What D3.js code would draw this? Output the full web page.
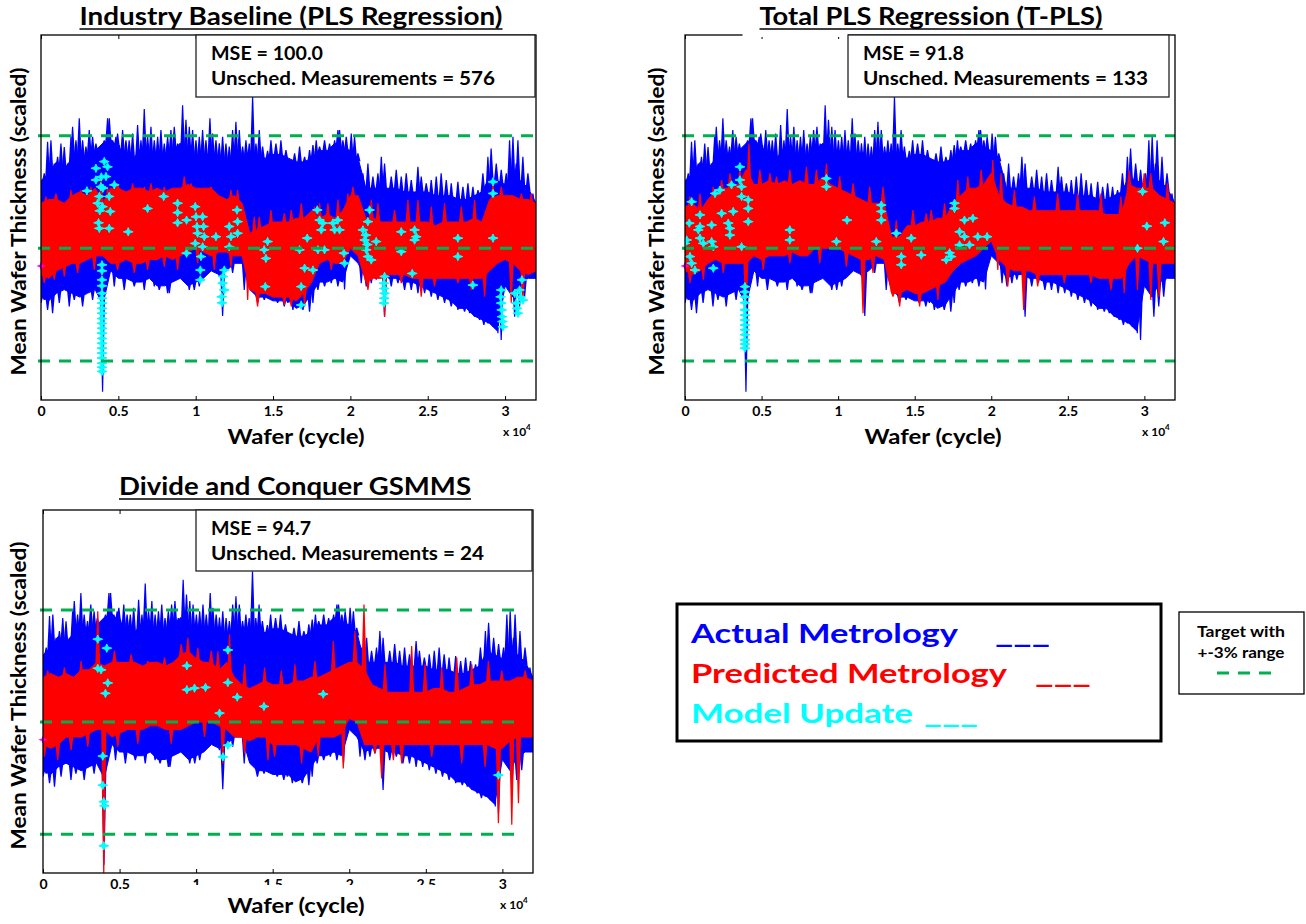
<!DOCTYPE html>
<html>
<head>
<meta charset="utf-8">
<script src="https://cdn.jsdelivr.net/npm/d3@7"></script>
<style>
body { margin: 0; background: #fff; }
text { font-family: Lato, "Open Sans", sans-serif; font-weight: bold; }
</style>
</head>
<body>
<svg id="chart" width="1306" height="924"></svg>
<script>
// wafer cycle of each envelope sample (every 500 wafers)
var cycles = [0,500,1000,1500,2000,2500,3000,3500,4000,4500,5000,5500,6000,6500,7000,7500,8000,8500,9000,9500,10000,10500,11000,11500,12000,12500,13000,13500,14000,14500,15000,15500,16000,16500,17000,17500,18000,18500,19000,19500,20000,20500,21000,21500,22000,22500,23000,23500,24000,24500,25000,25500,26000,26500,27000,27500,28000,28500,29000,29500,30000,30500,31000,31500,32000];

// actual metrology (same in every panel): dense upper / lower edge of the trace
var actualHi = [101.8,102.0,102.3,102.1,102.4,102.4,102.5,102.6,102.8,102.9,102.7,102.5,102.4,102.7,102.5,102.4,102.5,102.6,102.8,102.5,102.4,102.4,102.6,102.4,102.3,102.4,102.4,102.6,102.4,102.4,102.5,102.5,102.4,102.3,102.3,102.4,102.6,102.6,102.8,102.7,102.6,102.4,101.6,101.6,101.6,101.6,101.6,101.5,101.5,101.5,101.5,101.4,101.4,101.4,101.3,101.3,101.4,101.5,101.9,101.8,101.7,102.0,101.8,101.6,101.2];
var actualLo = [98.7,98.6,98.8,98.9,98.8,98.7,98.8,98.9,98.5,99.4,99.2,99.2,99.1,99.1,99.2,99.0,99.0,99.1,99.2,99.0,99.1,99.2,99.4,99.3,99.4,99.6,99.6,98.9,98.7,98.7,98.6,98.6,98.6,98.4,98.5,98.8,99.1,99.1,99.2,99.1,99.8,99.6,99.2,99.3,99.3,99.2,99.2,99.1,99.1,99.0,98.9,98.8,98.7,98.6,98.4,98.4,98.2,98.1,98.0,97.8,99.0,98.7,99.1,99.2,99.2];
// single excursions of the actual trace [cycle, value]
var actualSpikes = [[211,102.0],[427,102.84],[642,102.88],[858,102.26],[1073,102.44],[1289,102.79],[1504,102.7],[1720,102.26],[1935,102.97],[2043,103.24],[2258,102.88],[2474,103.46],[2689,102.88],[2905,102.71],[3120,103.15],[3336,102.97],[3551,102.79],[3767,102.62],[4090,102.88],[4306,103.46],[4413,103.46],[4629,102.88],[4844,102.97],[4950,103.06],[5060,102.75],[5275,103.15],[5491,102.88],[5700,102.88],[5922,103.06],[6245,103.28],[6461,102.88],[6676,103.71],[6892,102.97],[7107,103.24],[7323,102.88],[7540,102.97],[7754,103.15],[7969,102.79],[8185,102.97],[8400,103.15],[8616,103.24],[8831,102.79],[9154,103.81],[9370,103.42],[9585,103.24],[9800,103.15],[10016,102.88],[10232,102.97],[10447,103.15],[10663,102.88],[10920,103.46],[11094,103.06],[11309,102.88],[11525,102.8],[11740,102.97],[11956,102.79],[12171,102.71],[12387,103.15],[12600,103.37],[12818,103.15],[13033,102.71],[13249,102.88],[13464,102.79],[13680,104.04],[13895,102.79],[14111,103.15],[14326,102.71],[14650,102.6],[14865,102.88],[15188,102.79],[15510,102.88],[15835,102.62],[16393,102.53],[16716,102.71],[17039,102.44],[17362,102.62],[17580,102.75],[17793,102.88],[18009,102.71],[18330,102.88],[18655,102.79],[18979,102.88],[19194,103.15],[19300,103.15],[19517,102.88],[19733,102.97],[20056,103.06],[20270,102.97],[20487,102.53],[20810,102.0],[21134,102.26],[21457,101.91],[21780,102.0],[22000,102.44],[22210,102.26],[22642,101.91],[22965,102.09],[23289,101.91],[23612,102.0],[23935,101.82],[24366,102.17],[24582,101.91],[24905,101.73],[25228,101.82],[25551,101.91],[25870,102.0],[26198,101.82],[26521,101.73],[26950,101.77],[27275,101.64],[27599,101.73],[27922,101.64],[28250,101.55],[28568,102.0],[28891,102.44],[29100,102.66],[29430,102.26],[29753,102.09],[30077,102.0],[30292,102.88],[30510,102.97],[30723,102.26],[30830,102.88],[31150,102.44],[31478,102.0],[31800,101.46],
  [0,98.54],[211,98.62],[427,98.36],[750,98.27],[1181,98.54],[1827,98.45],[2150,98.62],[2690,98.45],[3336,98.62],[3767,98.71],[3980,96.18],[4737,98.98],[5380,98.89],[6030,98.98],[6676,98.89],[7323,98.98],[7646,98.89],[8185,98.8],[8292,98.8],[9585,98.89],[9909,98.89],[10232,98.98],[10555,99.25],[11525,99.25],[11740,98.2],[12387,99.34],[13141,98.89],[14003,98.54],[14434,98.62],[15296,98.54],[15727,98.45],[15961,98.54],[16285,98.36],[16608,98.45],[16931,98.36],[17360,98.31],[17578,98.54],[17901,98.89],[18332,98.98],[18763,99.07],[19194,98.98],[19625,98.9],[20703,99.07],[21026,98.98],[21349,99.07],[21672,99.16],[22210,98.18],[22642,98.98],[23073,99.07],[23504,98.89],[23935,98.89],[24366,98.8],[24797,98.8],[25228,98.71],[25659,98.62],[26090,98.54],[26521,98.45],[26952,98.36],[27383,98.31],[27710,98.27],[28030,98.18],[28353,98.09],[28630,97.96],[28891,98.0],[29215,97.91],[29538,97.74],[29750,97.56],[30620,98.18],[30939,98.45],[31262,98.71]];

// predicted metrology, industry baseline (PLS)
var predHiPLS = [101.2,101.3,101.3,101.2,101.4,101.5,101.4,101.6,101.2,101.6,101.6,101.5,101.6,101.6,101.5,101.6,101.5,101.6,101.6,101.7,101.6,101.6,101.6,101.4,101.3,101.4,101.2,100.4,100.5,100.6,100.7,100.7,100.7,100.8,100.8,101.0,100.8,100.9,100.8,101.0,101.4,101.4,100.8,100.8,100.7,100.7,100.7,100.7,100.7,100.7,100.7,100.6,100.7,100.7,100.7,100.7,100.8,100.7,101.3,101.4,101.4,101.4,101.3,101.3,101.2];
var predLoPLS = [99.3,99.2,99.4,99.5,99.6,99.6,99.7,99.8,99.8,99.6,99.6,99.7,99.6,99.6,99.7,99.7,99.8,99.7,99.8,99.9,100.0,99.9,99.8,99.9,99.9,99.8,99.8,98.9,98.8,98.8,98.7,98.7,98.7,98.6,98.8,99.1,99.6,99.7,99.6,99.6,100.0,99.8,99.1,99.2,99.2,99.3,99.3,99.3,99.2,99.2,99.2,99.2,99.2,99.2,99.2,99.2,99.2,99.2,99.4,99.6,99.7,99.6,99.4,99.3,99.4];
var predSpikesPLS = [[319,101.38],[965,101.46],[1935,101.55],[2582,101.55],[3228,101.64],[3875,101.91],[4306,101.64],[4952,101.73],[5922,101.73],[6676,101.64],[7107,101.73],[7969,101.64],[9262,101.91],[9693,101.73],[10986,101.64],[12279,101.55],[12710,101.55],[13787,100.84],[14111,100.84],[14865,101.02],[15727,100.93],[16177,101.02],[16824,101.2],[17686,101.11],[18010,101.2],[18548,101.2],[19194,101.29],[19840,101.46],[20164,101.64],[21350,101.29],[21780,101.2],[22857,101.02],[23720,101.29],[24366,101.29],[25228,101.11],[26090,101.2],[27168,101.11],[28030,101.29],[29220,101.73],[29753,101.64],[31050,101.46],[31693,101.46],
  [211,99.07],[858,99.16],[1504,99.25],[2366,99.34],[3444,99.42],[4952,99.42],[6030,99.34],[6892,99.42],[7969,99.51],[8831,99.42],[10124,99.6],[11201,99.42],[12279,99.51],[13360,98.62],[14000,98.45],[15730,98.49],[16177,98.45],[17039,98.45],[18763,99.42],[21134,98.89],[22210,98.18],[23289,99.07],[24580,98.71],[25443,98.98],[26952,99.07],[27814,98.89],[28676,98.71],[30400,98.54],[31150,98.62]];

// predicted metrology, total PLS (T-PLS)
var predHiTPLS = [101.1,101.2,101.0,101.3,101.5,101.6,101.6,101.7,102.1,101.7,101.7,101.8,101.7,101.8,101.7,101.8,101.7,101.7,101.9,101.7,101.6,101.5,101.4,101.3,101.2,101.2,101.2,100.3,100.3,100.6,100.6,100.7,100.7,100.8,100.8,101.2,101.4,101.6,101.6,101.7,102.0,101.4,101.2,101.1,101.1,101.0,101.0,101.0,101.0,101.0,101.0,101.0,101.0,101.0,101.0,100.9,100.9,100.9,101.7,101.6,101.6,101.6,101.4,101.3,101.2];
var predLoTPLS = [99.4,99.3,99.4,99.6,99.7,99.6,99.6,99.6,99.6,99.8,99.7,99.8,99.8,99.8,99.9,99.8,99.8,100.0,100.0,100.0,100.0,99.9,99.8,99.7,99.7,99.8,99.7,98.8,98.8,98.9,98.8,98.8,98.9,99.0,99.1,99.4,99.6,99.7,99.8,100.0,100.2,99.7,99.5,99.4,99.4,99.4,99.3,99.3,99.3,99.3,99.3,99.3,99.3,99.3,99.2,99.2,99.2,99.2,99.6,99.8,99.7,99.6,99.6,99.6,99.6];
var predSpikesTPLS = [[326,101.38],[978,101.46],[1847,101.64],[2390,101.82],[2934,102.0],[3585,102.09],[4172,102.79],[4889,102.09],[5541,102.0],[5976,101.91],[6845,102.09],[7931,102.17],[8583,102.09],[9235,102.26],[10104,101.91],[10974,101.73],[12060,101.64],[12929,101.64],[13800,100.75],[14885,101.02],[15754,100.93],[16080,101.02],[16950,101.2],[17820,101.82],[18470,101.91],[19340,102.09],[20100,102.35],[20640,102.0],[21513,101.55],[22817,101.38],[24338,101.46],[25642,101.46],[27163,101.46],[28467,101.38],[29010,102.08],[29988,102.0],[30420,102.0],[31509,101.73],
  [326,99.07],[1195,99.16],[2499,99.34],[3976,98.27],[5107,99.42],[6845,99.6],[8800,99.6],[10539,99.51],[11625,98.27],[12277,99.34],[13580,98.71],[14016,98.45],[15320,98.45],[16515,98.62],[20427,99.42],[21079,98.98],[22120,98.36],[23034,98.98],[24773,99.07],[26511,99.07],[27815,98.89],[28684,98.8],[29550,98.89],[30420,98.62],[30960,98.71]];

// predicted metrology, divide and conquer GSMMS
var predHiGSMMS = [101.2,101.3,101.2,101.3,101.2,101.4,101.4,101.6,101.5,101.6,101.6,101.6,101.6,101.5,101.6,101.6,101.5,101.6,101.8,101.9,101.7,101.6,101.6,101.4,101.6,101.2,101.0,100.9,101.0,101.1,101.0,101.0,101.0,101.1,101.1,101.2,101.2,101.3,101.4,101.5,101.6,101.6,101.4,101.0,100.9,100.8,100.8,100.8,100.8,100.8,100.8,100.9,100.9,100.8,100.8,100.9,101.0,101.0,101.1,101.1,101.1,101.1,101.2,101.2,101.1];
var predLoGSMMS = [99.4,99.3,99.4,99.6,99.6,99.6,99.7,99.8,99.8,99.6,99.7,99.8,99.8,99.8,99.9,99.9,99.8,99.8,99.8,99.9,100.0,100.0,100.0,99.9,99.8,99.6,99.6,99.5,99.6,99.6,99.4,99.4,99.4,99.4,99.3,99.2,99.6,99.6,99.6,99.7,100.1,100.0,99.4,99.4,99.4,99.4,99.4,99.4,99.4,99.4,99.4,99.4,99.4,99.4,99.4,99.4,99.4,99.4,99.4,99.3,99.3,99.5,99.6,99.6,99.6];
var predSpikesGSMMS = [[308,101.38],[1397,101.46],[2487,101.64],[3576,102.97],[4666,101.91],[5755,101.82],[6845,101.64],[7934,101.73],[9024,102.09],[9460,102.26],[10113,101.99],[10985,101.91],[11420,101.9],[12183,102.35],[13164,101.55],[14471,101.46],[15561,101.38],[16451,101.55],[17758,101.64],[18957,102.17],[20373,102.44],[20961,103.15],[22334,101.55],[24077,102.04],[24949,101.55],[26038,101.46],[27019,101.73],[28000,101.55],[29089,101.64],[29960,101.38],[31486,101.38],
  [90,99.07],[961,98.98],[1833,99.25],[2923,99.34],[3968,95.9],[4884,99.34],[6191,99.42],[8370,99.42],[10549,99.6],[11747,98.89],[13164,99.16],[14690,98.98],[15125,99.07],[16887,98.89],[17976,99.07],[19610,98.76],[21680,99.16],[22116,98.49],[22880,98.98],[23424,98.89],[25385,99.07],[27346,98.89],[28871,98.8],[29740,97.29],[30614,97.25],[31050,97.83]];

// model update points [cycle, value]
var updatesPLS = [[2970,101.53],[3550,102.13],[4090,102.31],[4200,101.91],[4740,101.69],[3770,101.38],[3980,101.11],[3550,101.82],[4300,102.17],[3870,101.64],[3660,101.2],[4410,101.38],[3720,100.68],[3770,100.53],[4410,100.53],[4480,100.98],[3900,101.9],[4000,101.6],[3800,101.0],
  [5640,100.44],[6890,101.06],[7930,101.38],[8830,101.2],[8830,100.95],[8830,100.68],[9410,100.75],[9410,99.87],[9970,101.11],[10020,100.84],[10080,100.58],[10124,100.4],[9970,100.13],[10450,100.84],[10510,100.58],[10555,100.31],[10450,100.04],[10340,99.78],[10300,99.42],[10300,99.16],
  [11310,100.31],[12170,100.58],[12280,100.31],[12170,100.04],[12710,100.71],[12710,100.4],[12670,101.02],[11850,99.42],[11740,99.07],[11680,98.71],[11850,98.89],[11760,99.25],[11700,98.55],[14650,100.18],[14430,99.96],[14540,99.73],[14500,98.98],
  [3940,99.56],[3940,99.4],[3940,99.16],[3940,99.0],[3940,98.8],[3940,98.67],[3940,98.54],[3940,98.4],[3940,98.27],[3940,98.13],[3940,98.0],[3940,97.87],[3940,97.74],[3940,97.6],[3940,97.47],[3940,97.34],[3940,97.21],[3940,97.08],[3940,96.94],[3940,96.83],[3940,96.72],
  [16715,99.96],[17040,99.47],[16820,98.98],[16820,98.49],[17210,100.27],[17580,99.42],[17860,101.02],[17900,99.96],[18010,100.75],[18120,100.49],[18220,100.67],[18330,99.96],[18870,100.67],[18980,100.49],[19190,100.75],[19300,100.49],[19580,99.87],[19620,99.6],
  [20810,100.49],[20920,100.22],[21030,99.96],[21130,99.78],[21240,101.02],[21130,100.71],[21350,99.69],[21670,100.18],[21000,100.35],[21100,100.1],[22170,99.07],[22210,98.8],[22170,98.54],[22210,99.25],[22190,98.67],[22190,98.93],
  [23290,100.44],[23290,99.91],[24000,99.33],[24150,100.49],[24150,100.22],[24260,100.31],[26950,100.27],[26950,99.78],[27920,99.02],[29220,101.77],[29220,101.46],[29220,100.27],
  [29750,98.89],[29750,98.54],[29800,98.18],[29860,97.91],[29710,98.71],[29780,98.36],[29830,98.05],[30620,98.8],[30720,98.54],[30830,98.27],[31090,99.16],[31150,98.62],[30940,98.89],[30780,98.4],[31000,98.7]];
var updatesTPLS = [[435,101.24],[280,100.67],[110,100.22],[0,100.13],[326,99.78],[650,99.42],[435,99.6],[980,100.89],[980,100.58],[980,100.27],[870,100.49],[1195,100.13],[1740,100.62],[1740,100.18],[1850,100.04],[1850,99.47],[1960,101.46],[2280,101.55],[2390,100.93],[2825,100.67],[2933,100.53],[2933,100.35],[3040,101.69],[3150,100.98],[3585,102.17],[3585,101.82],[3694,101.64],[3694,101.38],[4130,101.29],[4130,101.06],[4130,100.71],[3694,100.04],
  [3910,98.98],[3910,98.84],[3910,98.71],[3910,98.55],[3910,98.36],[3910,98.22],[3910,98.09],[3910,97.96],[3910,97.83],[3910,97.7],[3910,97.56],[3910,97.45],[3910,97.34],
  [6845,100.49],[6845,100.22],[9235,101.86],[9235,101.64],[9890,100.18],[10580,100.75],[12495,100.18],[12820,101.15],[12820,100.98],[12820,100.75],[13800,100.4],[14125,99.78],[14125,99.56],[14775,100.27],[15430,99.82],
  [17600,101.2],[17600,101.06],[18250,100.75],[18800,100.8],[17930,100.44],[18250,100.31],[17930,100.09],[18580,100.09],[19120,100.31],[19730,100.31],[17280,99.88],[17385,99.78],[17060,99.69],[29880,101.51],[30160,100.59],[31335,100.68],[31250,100.18],[29550,100.0]];
var updatesGSMMS = [[3576,102.22],[4165,101.98],[3576,101.44],[3794,101.4],[4230,101.05],[4077,100.77],[3903,99.09],[3903,98.31],[3968,97.87],[4012,97.76],[3968,96.69],[9394,101.51],[9394,100.87],[9895,100.91],[10614,100.93],[11530,100.24],[12074,101.93],[12074,101.06],[12684,100.67],[14428,100.42],[11747,99.07],[12074,99.38],[18300,100.75],[29740,98.58]];
var firstPoint = [0, 99.53];

var targetLevels = [97, 100, 103];
var xTicks = [0, 5000, 10000, 15000, 20000, 25000, 30000];
var titles = ["Industry Baseline (PLS Regression)", "Total PLS Regression (T-PLS)", "Divide and Conquer GSMMS"];
var mseValues = ["100.0", "91.8", "94.7"];
var unschedCounts = [576, 133, 24];
var targetEnds = [32000, 32000, 30800];
var yDomain = [95.96, 105.68];

var svg = d3.select("#chart");
svg.append("rect").attr("width", 1306).attr("height", 924).attr("fill", "#fff");

var panels = [
  {hi: predHiPLS, lo: predLoPLS, spikes: predSpikesPLS, updates: updatesPLS,
   left: 41, right: 536, top: 35, bottom: 400, titleX: 291, titleY: 25, titleW: 423, boxX: 196, boxW: 339, boxH: 62,
   mseW: [112, 284], yLabelX: 26, xLabelX: 296, xLabelY: 444},
  {hi: predHiTPLS, lo: predLoTPLS, spikes: predSpikesTPLS, updates: updatesTPLS,
   left: 685, right: 1175, top: 35, bottom: 400, titleX: 931, titleY: 25, titleW: 343, boxX: 848, boxW: 321, boxH: 62,
   mseW: [101, 285], yLabelX: 664, xLabelX: 933, xLabelY: 444, cover: true},
  {hi: predHiGSMMS, lo: predLoGSMMS, spikes: predSpikesGSMMS, updates: updatesGSMMS,
   left: 43, right: 533, top: 510, bottom: 873, titleX: 295, titleY: 495, titleW: 352, boxX: 196, boxW: 336, boxH: 61,
   mseW: [100, 273], yLabelX: 26, xLabelX: 296, xLabelY: 913, cutTicks: true}
];

// model update marker: small four-point star with a horizontal bar
var sparkle = "M0,-4.2L1.3,-1.3L4.6,0L1.3,1.3L0,4.2L-1.3,1.3L-4.6,0L-1.3,-1.3Z";

function fit(sel, w) {
  return sel.attr("textLength", w).attr("lengthAdjust", "spacingAndGlyphs");
}

panels.forEach(function(p, k) {
  var x = d3.scaleLinear().domain([0, 32000]).range([p.left, p.right]);
  var y = d3.scaleLinear().domain(yDomain).range([p.bottom, p.top]);
  var g = svg.append("g");

  var clipId = "clip" + k;
  g.append("clipPath").attr("id", clipId)
    .append("rect").attr("x", p.left).attr("y", p.top)
    .attr("width", p.right - p.left).attr("height", p.bottom - p.top);
  var plot = g.append("g").attr("clip-path", "url(#" + clipId + ")");

  function band(hi, lo, color) {
    var area = d3.area()
      .x(function(d, i) { return x(cycles[i]); })
      .y0(function(d, i) { return y(lo[i]); })
      .y1(function(d, i) { return y(hi[i]); });
    plot.append("path").datum(cycles).attr("d", area)
      .attr("fill", color).attr("stroke", color).attr("stroke-width", 1);
  }
  // each excursion drawn as a narrow needle rising out of the band edge
  function spikes(list, hi, lo, color) {
    plot.selectAll(null).data(list).enter().append("path")
      .attr("d", function(d) {
        var i0 = Math.floor(d[0] / 500), i1 = Math.min(i0 + 1, cycles.length - 1);
        var top = Math.min(hi[i0], hi[i1]), bot = Math.max(lo[i0], lo[i1]);
        var up = d[1] > (top + bot) / 2;
        var px = x(d[0]), tip = y(d[1]);
        var base = up ? y(top) + 3 : y(bot) - 3;
        return "M" + (px - 2.6) + "," + base + "L" + (px - 0.6) + "," + tip + "L" + (px + 0.6) + "," + tip +
          "L" + (px + 2.6) + "," + base + "Z";
      })
      .attr("fill", color);
  }

  band(actualHi, actualLo, "#0000ff");
  spikes(actualSpikes, actualHi, actualLo, "#0000ff");
  band(p.hi, p.lo, "#ff0000");
  spikes(p.spikes, p.hi, p.lo, "#ff0000");

  // model updates
  var pts = plot.selectAll(null).data(p.updates).enter().append("g")
    .attr("transform", function(d) { return "translate(" + x(d[0]) + "," + y(d[1]) + ")"; });
  pts.append("path").attr("d", sparkle).attr("fill", "#00ffff").attr("stroke", "#00ffff").attr("stroke-width", 1);
  pts.append("line").attr("x1", -5).attr("x2", 5).attr("stroke", "#00ffff").attr("stroke-width", 1.2);

  var fp = g.append("g").attr("transform", "translate(" + x(firstPoint[0]) + "," + y(firstPoint[1]) + ")");
  fp.append("path").attr("d", sparkle).attr("fill", "#ff00ff");

  // target +-3% lines
  g.selectAll(null).data(targetLevels).enter().append("line")
    .attr("x1", p.left - 3).attr("x2", x(targetEnds[k]))
    .attr("y1", function(d) { return y(d); }).attr("y2", function(d) { return y(d); })
    .attr("stroke", "#00b050").attr("stroke-width", 3).attr("stroke-dasharray", "12,9");

  // frame and ticks
  g.append("rect").attr("x", p.left).attr("y", p.top)
    .attr("width", p.right - p.left).attr("height", p.bottom - p.top)
    .attr("fill", "none").attr("stroke", "#000").attr("stroke-width", 1.3);

  var bottomAxis = g.append("g").attr("transform", "translate(0," + p.bottom + ")")
    .call(d3.axisBottom(x).tickValues(xTicks).tickSize(-4).tickSizeOuter(0).tickPadding(6)
      .tickFormat(function(d) { return d / 10000; }));
  bottomAxis.select(".domain").remove();
  bottomAxis.selectAll("text").attr("font-size", 14).attr("fill", "#000")
    .attr("font-family", "Lato, sans-serif").attr("font-weight", "bold");
  var topAxis = g.append("g").attr("transform", "translate(0," + p.top + ")")
    .call(d3.axisTop(x).tickValues(xTicks).tickSize(-4).tickSizeOuter(0).tickFormat(""));
  topAxis.select(".domain").remove();

  // axis labels
  if (p.cutTicks) {
    g.append("rect").attr("x", 130).attr("y", p.bottom + 12).attr("width", 340).attr("height", 40).attr("fill", "#fff");
  }
  fit(g.append("text").attr("x", p.xLabelX).attr("y", p.xLabelY).attr("text-anchor", "middle")
    .attr("font-size", 20).text("Wafer (cycle)"), 137);
  var mult = g.append("text").attr("x", p.right - 33).attr("y", p.bottom + 36).attr("font-size", 12);
  mult.append("tspan").text("x 10");
  mult.append("tspan").attr("font-size", 8).attr("dy", -6).text("4");
  var cy = (p.top + p.bottom) / 2 + 4;
  fit(g.append("text").attr("transform", "translate(" + p.yLabelX + "," + cy + ") rotate(-90)")
    .attr("text-anchor", "middle").attr("font-size", 21).text("Mean Wafer Thickness (scaled)"), 308);

  // title
  var title = fit(g.append("text").attr("x", p.titleX).attr("y", p.titleY).attr("text-anchor", "middle")
    .attr("font-size", 24).text(titles[k]), p.titleW);
  var x0 = p.titleX - p.titleW / 2;
  if (p.cover) {
    g.append("rect").attr("x", x0 - 17).attr("y", p.top - 3).attr("width", p.boxX - x0 + 17).attr("height", 5).attr("fill", "#fff");
    title.raise();
  }
  g.append("line").attr("x1", x0).attr("x2", x0 + p.titleW)
    .attr("y1", p.titleY + 4).attr("y2", p.titleY + 4).attr("stroke", "#000").attr("stroke-width", 1.5);

  // MSE box
  g.append("rect").attr("x", p.boxX).attr("y", p.top).attr("width", p.boxW).attr("height", p.boxH)
    .attr("fill", "#fff").attr("stroke", "#222").attr("stroke-width", 1.3);
  fit(g.append("text").attr("x", p.boxX + 15).attr("y", p.top + 25).attr("font-size", 18)
    .text("MSE = " + mseValues[k]), p.mseW[0]);
  fit(g.append("text").attr("x", p.boxX + 15).attr("y", p.top + 50).attr("font-size", 18)
    .text("Unsched. Measurements = " + unschedCounts[k]), p.mseW[1]);
});

// main legend
var legend = svg.append("g");
legend.append("rect").attr("x", 677).attr("y", 604).attr("width", 484).attr("height", 137)
  .attr("fill", "#fff").attr("stroke", "#000").attr("stroke-width", 3);
var legendItems = [
  {label: "Actual Metrology", color: "#0000ff", y: 643, w: 267, lineX: 995, lineW: 55},
  {label: "Predicted Metrology", color: "#ff0000", y: 683, w: 316, lineX: 1035, lineW: 56},
  {label: "Model Update", color: "#00ffff", y: 723, w: 222, lineX: 924, lineW: 54}
];
legendItems.forEach(function(d) {
  fit(legend.append("text").attr("x", 691).attr("y", d.y).attr("font-size", 27).attr("fill", d.color).text(d.label), d.w);
  fit(legend.append("text").attr("x", d.lineX).attr("y", d.y).attr("font-size", 27).attr("fill", d.color).text("___"), d.lineW);
});

// target legend
var tl = svg.append("g");
tl.append("rect").attr("x", 1179).attr("y", 612).attr("width", 125).attr("height", 82)
  .attr("fill", "#fff").attr("stroke", "#000").attr("stroke-width", 1.3);
fit(tl.append("text").attr("x", 1241).attr("y", 637).attr("text-anchor", "middle").attr("font-size", 15).text("Target with"), 88);
fit(tl.append("text").attr("x", 1241).attr("y", 658).attr("text-anchor", "middle").attr("font-size", 15).text("+-3% range"), 87);
tl.append("line").attr("x1", 1217).attr("x2", 1272).attr("y1", 673).attr("y2", 673)
  .attr("stroke", "#00b050").attr("stroke-width", 3).attr("stroke-dasharray", "12,9");
</script>
</body>
</html>
